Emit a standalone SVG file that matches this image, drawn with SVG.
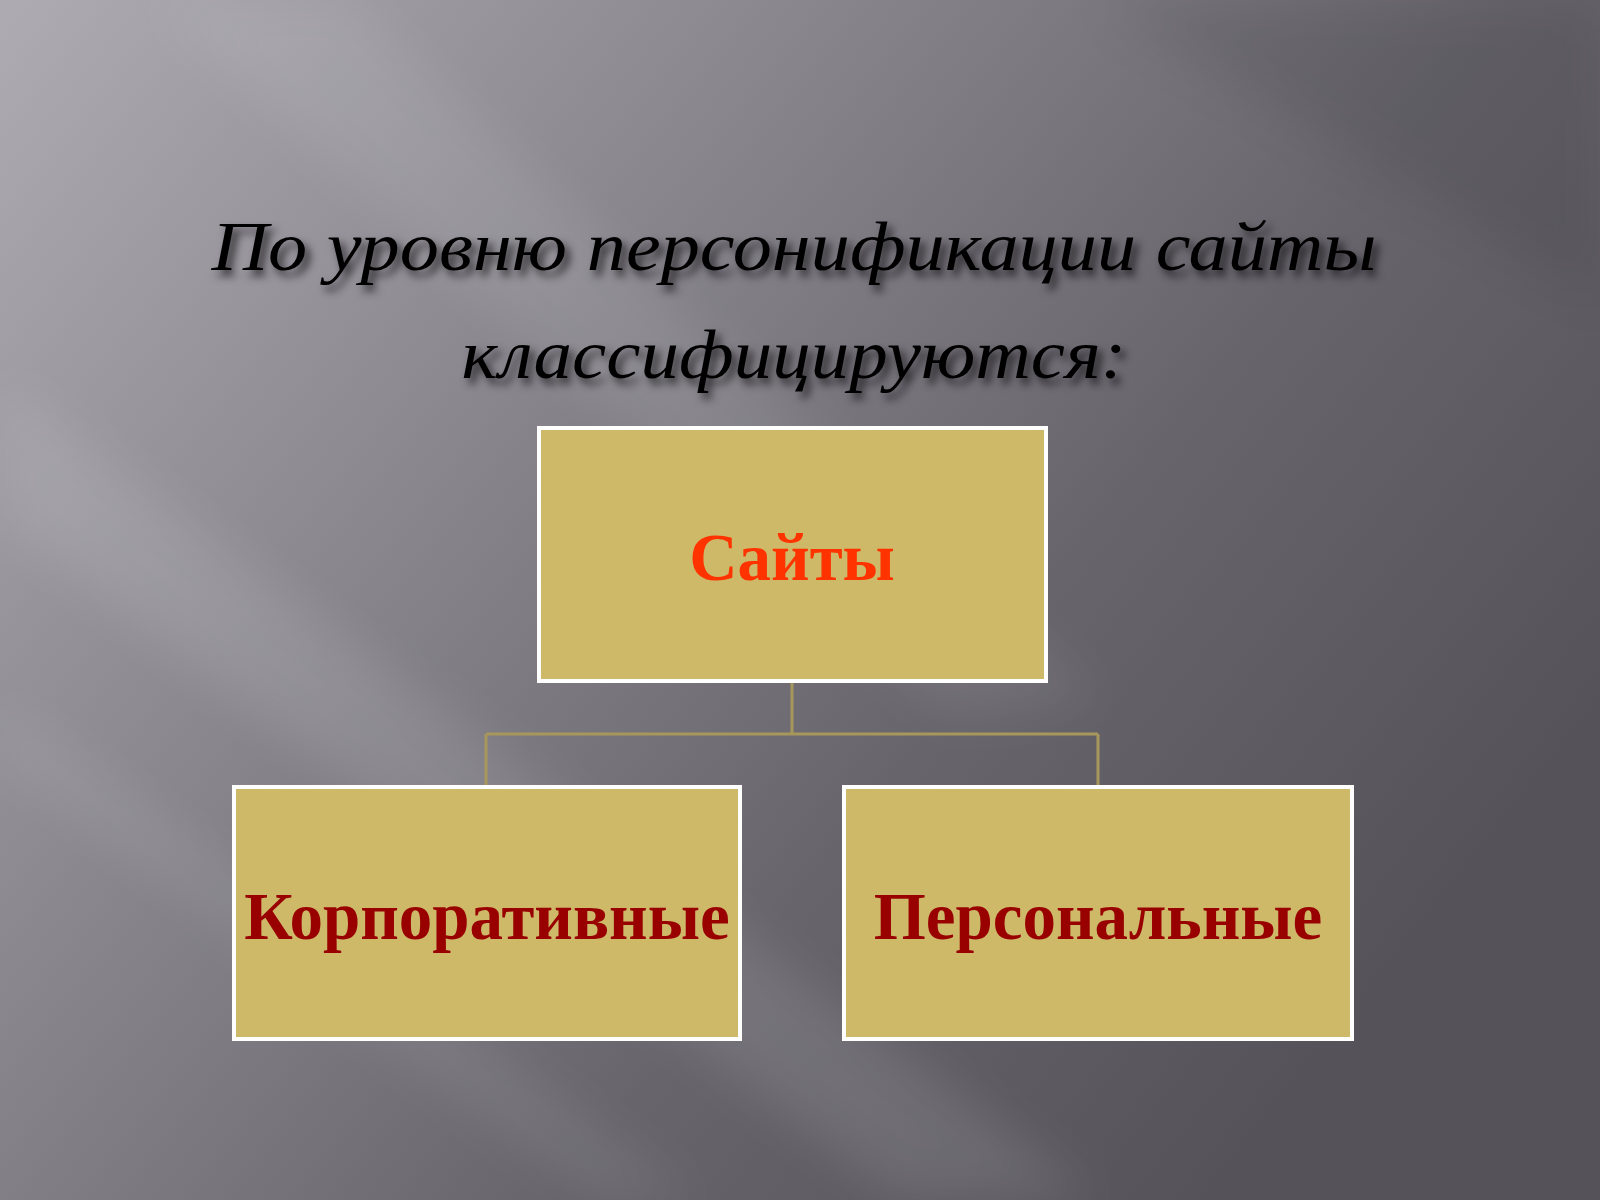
<svg xmlns="http://www.w3.org/2000/svg" width="1600" height="1200" viewBox="0 0 1600 1200">
<defs>
<linearGradient id="bg" x1="0" y1="0" x2="1" y2="0.6">
<stop offset="0" stop-color="#aeabb3"/>
<stop offset="0.35" stop-color="#8b8890"/>
<stop offset="0.7" stop-color="#67646c"/>
<stop offset="1" stop-color="#55525a"/>
</linearGradient>
<filter id="blur" x="-20%" y="-20%" width="140%" height="140%"><feGaussianBlur stdDeviation="25"/></filter>
<filter id="shadow" x="-10%" y="-30%" width="120%" height="160%">
<feDropShadow dx="5" dy="6" stdDeviation="4" flood-color="#000" flood-opacity="0.7"/>
</filter>
</defs>
<style>
.title{font-family:"Liberation Serif","DejaVu Serif",serif;font-style:italic;font-size:70px;fill:#050505;}
.box{fill:#CEB969;stroke:#ffffff;stroke-width:4;}
.lbl{font-family:"Liberation Serif","Times New Roman",serif;font-weight:bold;font-size:67px;text-anchor:middle;}
.conn{fill:none;stroke:#A8975A;stroke-width:3;}
</style>
<rect x="0" y="0" width="1600" height="1200" fill="url(#bg)"/>
<g filter="url(#blur)">
<polygon points="0,380 0,520 900,1200 1100,1200" fill="#ffffff" opacity="0.10"/>
<polygon points="150,0 350,0 1100,700 950,720" fill="#ffffff" opacity="0.08"/>
<polygon points="0,700 0,760 600,1200 700,1200" fill="#ffffff" opacity="0.08"/>
<polygon points="1100,0 1600,0 1600,300" fill="#000000" opacity="0.08"/>
</g>
<g id="title" filter="url(#shadow)">
<text class="title" x="794" y="270" text-anchor="middle" textLength="1165" lengthAdjust="spacingAndGlyphs">По уровню персонификации сайты</text>
<text class="title" x="794" y="378" text-anchor="middle" textLength="665" lengthAdjust="spacingAndGlyphs">классифицируются:</text>
</g>
<g id="connectors">
<path class="conn" d="M792,681 V734 M486,734 H1098 M486,734 V787 M1098,734 V787"/>
</g>
<g id="node-sites">
<rect class="box" x="539" y="428" width="507" height="253"/>
<text class="lbl" x="792" y="580" fill="#FF3300">Сайты</text>
</g>
<g id="node-corporate">
<rect class="box" x="234" y="787" width="506" height="252"/>
<text class="lbl" x="487" y="939" fill="#990000">Корпоративные</text>
</g>
<g id="node-personal">
<rect class="box" x="844" y="787" width="508" height="252"/>
<text class="lbl" x="1098" y="939" fill="#990000">Персональные</text>
</g>
</svg>
